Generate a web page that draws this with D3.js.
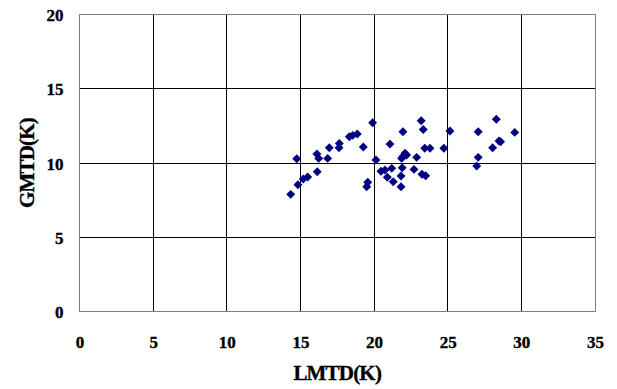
<!DOCTYPE html>
<html>
<head>
<meta charset="utf-8">
<script src="https://cdn.jsdelivr.net/npm/d3@7"></script>
<style>
  html, body { margin: 0; padding: 0; background: #fff; }
  svg { display: block; }
  text { font-family: "Liberation Serif", "Times New Roman", serif; font-weight: bold; fill: #000; }
</style>
</head>
<body>
<svg id="chart" width="617" height="389"></svg>
<script>
// Measured temperature differences (K)
const lmtd = [
  14.34, 14.83, 14.75, 15.19, 15.49, 16.14, 16.12, 16.24, 16.85, 16.96,
  17.64, 17.62, 18.32, 18.55, 18.86, 19.27, 19.90, 20.13, 19.57, 19.50,
  20.47, 20.74, 20.90, 21.20, 21.08, 21.30, 21.83, 21.83, 21.91, 21.96,
  21.87, 22.10, 22.21, 21.94, 22.71, 22.89, 23.20, 23.34, 23.44, 23.80,
  23.25, 23.50, 24.74, 25.15, 27.07, 28.30, 28.48, 28.59, 28.05, 27.07,
  26.97, 29.55
];
const gmtd = [
  7.90, 8.55, 10.30, 8.93, 9.07, 9.42, 10.61, 10.32, 10.32, 11.04,
  11.33, 11.04, 11.78, 11.87, 11.96, 11.08, 12.72, 10.21, 8.71, 8.41,
  9.45, 9.54, 9.05, 9.65, 11.28, 8.75, 8.41, 9.13, 9.69, 12.11,
  10.32, 10.66, 10.54, 10.43, 9.58, 10.39, 12.85, 12.27, 11.00, 11.00,
  9.25, 9.15, 11.00, 12.16, 12.11, 12.95, 11.49, 11.44, 11.04, 10.39,
  9.80, 12.07
];
const xTicks = [0, 5, 10, 15, 20, 25, 30, 35];
const yTicks = [0, 5, 10, 15, 20];
const xTitle = "LMTD(K)";
const yTitle = "GMTD(K)";

const svg = d3.select("#chart");
const plotLeft = 79.5, plotRight = 595, plotTop = 14.5, plotBottom = 311.8;

const x = d3.scaleLinear().domain([0, 35]).range([plotLeft, plotRight]);
const y = d3.scaleLinear().domain([0, 20]).range([plotBottom, plotTop]);

// Grid lines
const grid = svg.append("g").attr("shape-rendering", "crispEdges");
grid.selectAll("line.h").data(yTicks.filter(v => v > 0 && v < 20)).join("line")
  .attr("class", "h")
  .attr("x1", plotLeft).attr("x2", plotRight)
  .attr("y1", d => y(d)).attr("y2", d => y(d))
  .attr("stroke", "#000").attr("stroke-width", 1);
grid.selectAll("line.v").data(xTicks.filter(v => v > 0 && v < 35)).join("line")
  .attr("class", "v")
  .attr("x1", d => x(d)).attr("x2", d => x(d))
  .attr("y1", plotTop).attr("y2", plotBottom)
  .attr("stroke", "#000").attr("stroke-width", 1);

// Plot frame
grid.append("rect")
  .attr("x", plotLeft).attr("y", plotTop)
  .attr("width", plotRight - plotLeft).attr("height", plotBottom - plotTop)
  .attr("fill", "none").attr("stroke", "#808080").attr("stroke-width", 1);

// Axes (labels only)
const xAxis = d3.axisBottom(x).tickValues(xTicks).tickSize(0).tickPadding(0);
const gx = svg.append("g").attr("transform", `translate(0,${plotBottom})`).call(xAxis);
gx.select(".domain").remove();
gx.selectAll("text")
  .attr("dy", null).attr("y", 36)
  .attr("fill", "#000").attr("stroke", "#000").attr("stroke-width", 0.35)
  .style("font-size", "17px").style("font-family", "Liberation Serif").style("font-weight", "bold");

const yAxis = d3.axisLeft(y).tickValues(yTicks).tickSize(0).tickPadding(0);
const gy = svg.append("g").attr("transform", `translate(${plotLeft},0)`).call(yAxis);
gy.select(".domain").remove();
gy.selectAll("text")
  .attr("x", -16).attr("dy", "0.35em")
  .attr("fill", "#000").attr("stroke", "#000").attr("stroke-width", 0.35)
  .style("font-size", "17px").style("font-family", "Liberation Serif").style("font-weight", "bold");

// Axis titles
svg.append("text")
  .attr("x", (plotLeft + plotRight) / 2).attr("y", 380)
  .attr("text-anchor", "middle")
  .attr("stroke", "#000").attr("stroke-width", 0.35)
  .style("font-size", "21px").style("letter-spacing", "-0.8px")
  .text(xTitle);

svg.append("text")
  .attr("transform", "translate(34,163) rotate(-90)")
  .attr("text-anchor", "middle")
  .attr("stroke", "#000").attr("stroke-width", 0.35)
  .style("font-size", "21px").style("letter-spacing", "-0.8px")
  .text(yTitle);

// Data points as diamonds
const diamond = d3.symbol().type(d3.symbolSquare).size(40);
svg.append("g").selectAll("path")
  .data(lmtd.map((v, i) => [v, gmtd[i]]))
  .join("path")
  .attr("d", diamond)
  .attr("transform", d => `translate(${x(d[0])},${y(d[1])}) rotate(45)`)
  .attr("fill", "#000080");
</script>
</body>
</html>
